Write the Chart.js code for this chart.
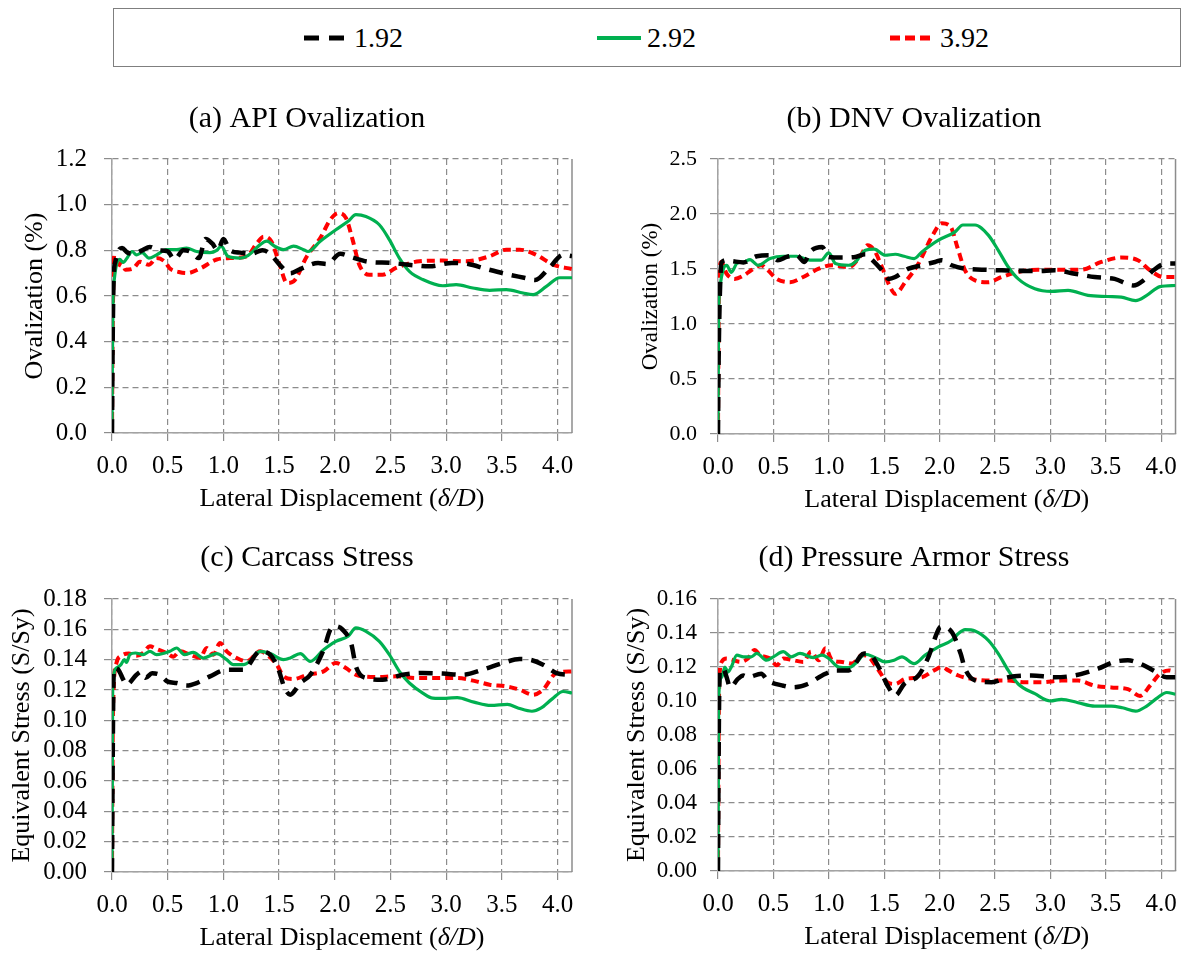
<!DOCTYPE html>
<html>
<head>
<meta charset="utf-8">
<script src="https://cdn.jsdelivr.net/npm/chart.js@4.4.0/dist/chart.umd.min.js"></script>
<style>
  body { margin: 0; background: #fff; }
  #page { position: relative; width: 1187px; height: 955px; overflow: hidden; font-family: 'Liberation Serif', serif; }
  .panel { position: absolute; }
  #legend { position: absolute; left: 113px; top: 8px; width: 1068px; height: 59px; border: 1px solid #7f7f7f; box-sizing: border-box; }
  .item { position: absolute; top: 0; height: 57px; display: flex; align-items: center; font-size: 28px; color: #000; }
  .item svg { margin-right: 6px; }
</style>
</head>
<body>
<div id="page">
  <div id="legend"></div>
  <div class="panel" style="left:0;top:80px;width:594px;height:450px"><canvas id="api"></canvas></div>
  <div class="panel" style="left:594px;top:80px;width:593px;height:450px"><canvas id="dnv"></canvas></div>
  <div class="panel" style="left:0;top:530px;width:594px;height:425px"><canvas id="carcass"></canvas></div>
  <div class="panel" style="left:594px;top:530px;width:593px;height:425px"><canvas id="armor"></canvas></div>
</div>
<script>
// legend / series
const seriesLabels = ['1.92', '2.92', '3.92'];
const seriesColors = ['#000000', '#00b050', '#ff0000'];
const seriesDash = [[14, 9], [], [8, 5]];
const seriesWidth = [4.5, 3.2, 4];

// x axis (lateral displacement, delta/D)
const xMax = 4.13;
const xStep = 0.5;

// (a) API ovalization, %  [x, y]
const apiOval192 = [[0,0],[0.005,0.35],[0.015,0.68],[0.03,0.75],[0.06,0.80],[0.09,0.81],[0.14,0.79],[0.2,0.785],[0.27,0.80],[0.34,0.815],[0.42,0.80],[0.5,0.795],[0.56,0.76],[0.64,0.80],[0.7,0.795],[0.78,0.766],[0.84,0.85],[0.9,0.83],[0.95,0.80],[1.0,0.85],[1.06,0.80],[1.15,0.79],[1.25,0.785],[1.35,0.80],[1.42,0.785],[1.5,0.74],[1.6,0.70],[1.7,0.72],[1.85,0.745],[1.93,0.74],[2.05,0.785],[2.15,0.77],[2.3,0.75],[2.5,0.745],[2.7,0.735],[2.85,0.73],[3.05,0.745],[3.2,0.74],[3.35,0.72],[3.55,0.695],[3.7,0.68],[3.8,0.67],[3.92,0.72],[4.05,0.78],[4.13,0.775]];
const apiOval292 = [[0,0],[0.003,0.3],[0.01,0.6],[0.02,0.67],[0.04,0.737],[0.07,0.76],[0.1,0.747],[0.14,0.77],[0.18,0.795],[0.22,0.78],[0.27,0.79],[0.33,0.766],[0.4,0.78],[0.49,0.803],[0.58,0.803],[0.67,0.81],[0.76,0.795],[0.88,0.79],[0.94,0.80],[0.98,0.818],[1.04,0.774],[1.15,0.766],[1.22,0.777],[1.33,0.825],[1.39,0.84],[1.46,0.818],[1.54,0.803],[1.63,0.818],[1.72,0.803],[1.76,0.795],[1.87,0.84],[2.01,0.89],[2.12,0.927],[2.19,0.956],[2.28,0.948],[2.4,0.912],[2.49,0.847],[2.58,0.766],[2.67,0.708],[2.79,0.672],[2.97,0.645],[3.09,0.65],[3.24,0.635],[3.39,0.625],[3.54,0.628],[3.69,0.613],[3.78,0.606],[3.9,0.642],[4.02,0.68],[4.13,0.68]];
const apiOval392 = [[0,0],[0.005,0.4],[0.012,0.65],[0.02,0.78],[0.04,0.72],[0.087,0.75],[0.12,0.715],[0.19,0.72],[0.25,0.75],[0.33,0.737],[0.4,0.766],[0.475,0.75],[0.52,0.72],[0.6,0.705],[0.67,0.70],[0.79,0.72],[0.94,0.76],[1.06,0.766],[1.21,0.774],[1.3,0.83],[1.36,0.86],[1.43,0.84],[1.51,0.73],[1.57,0.657],[1.63,0.664],[1.75,0.774],[1.87,0.854],[1.96,0.934],[2.03,0.963],[2.1,0.942],[2.16,0.847],[2.22,0.737],[2.31,0.693],[2.43,0.693],[2.55,0.723],[2.76,0.752],[2.97,0.755],[3.18,0.752],[3.39,0.774],[3.54,0.803],[3.66,0.803],[3.81,0.78],[3.96,0.737],[4.13,0.718]];

// (b) DNV ovalization, %
const dnvOval192 = [[0,0],[0.005,0.6],[0.015,1.2],[0.033,1.56],[0.08,1.58],[0.14,1.57],[0.23,1.56],[0.35,1.616],[0.47,1.625],[0.54,1.58],[0.62,1.61],[0.71,1.625],[0.78,1.564],[0.83,1.655],[0.94,1.70],[1.0,1.61],[1.12,1.604],[1.24,1.61],[1.33,1.634],[1.38,1.595],[1.48,1.488],[1.54,1.41],[1.6,1.427],[1.72,1.503],[1.84,1.534],[1.96,1.564],[2.02,1.58],[2.11,1.534],[2.23,1.503],[2.38,1.494],[2.56,1.488],[2.71,1.482],[2.89,1.482],[3.04,1.488],[3.22,1.457],[3.4,1.427],[3.58,1.41],[3.75,1.35],[3.84,1.396],[3.93,1.488],[4.05,1.55],[4.13,1.55]];
const dnvOval292 = [[0,0],[0.003,0.6],[0.006,1.09],[0.018,1.335],[0.048,1.5],[0.078,1.534],[0.12,1.47],[0.17,1.55],[0.23,1.564],[0.29,1.585],[0.32,1.564],[0.36,1.534],[0.47,1.595],[0.59,1.616],[0.71,1.616],[0.83,1.58],[0.93,1.58],[1.0,1.646],[1.06,1.55],[1.18,1.534],[1.24,1.564],[1.33,1.67],[1.41,1.68],[1.51,1.625],[1.6,1.634],[1.68,1.616],[1.77,1.595],[1.84,1.655],[1.99,1.762],[2.14,1.838],[2.21,1.9],[2.32,1.9],[2.44,1.808],[2.53,1.67],[2.62,1.518],[2.71,1.41],[2.86,1.32],[3.01,1.296],[3.16,1.305],[3.34,1.26],[3.52,1.25],[3.64,1.244],[3.77,1.213],[3.87,1.26],[3.99,1.34],[4.13,1.35]];
const dnvOval392 = [[0,0],[0.004,0.8],[0.01,1.43],[0.03,1.564],[0.078,1.457],[0.15,1.41],[0.23,1.44],[0.3,1.488],[0.39,1.534],[0.45,1.488],[0.53,1.41],[0.65,1.38],[0.77,1.427],[0.91,1.503],[1.03,1.534],[1.18,1.518],[1.29,1.625],[1.35,1.716],[1.41,1.67],[1.48,1.518],[1.54,1.366],[1.6,1.274],[1.69,1.38],[1.81,1.55],[1.93,1.793],[2.02,1.915],[2.1,1.884],[2.16,1.7],[2.23,1.488],[2.32,1.396],[2.44,1.38],[2.56,1.427],[2.71,1.473],[2.89,1.494],[3.07,1.494],[3.28,1.494],[3.46,1.564],[3.64,1.604],[3.79,1.58],[3.9,1.488],[4.02,1.427],[4.13,1.427]];

// (c) carcass stress, S/Sy
const carcass192 = [[0,0],[0.005,0.06],[0.012,0.12],[0.018,0.1345],[0.057,0.1334],[0.1,0.127],[0.13,0.1235],[0.22,0.13],[0.26,0.132],[0.3,0.128],[0.36,0.131],[0.43,0.13],[0.5,0.1255],[0.58,0.1246],[0.67,0.123],[0.76,0.1246],[0.88,0.129],[1.03,0.1334],[1.18,0.1334],[1.33,0.1455],[1.42,0.1433],[1.49,0.1345],[1.55,0.1213],[1.6,0.1169],[1.69,0.1246],[1.78,0.130],[1.9,0.1466],[1.96,0.1598],[2.01,0.162],[2.07,0.1598],[2.15,0.1499],[2.19,0.1356],[2.28,0.1279],[2.43,0.1268],[2.61,0.130],[2.79,0.1312],[2.97,0.1308],[3.15,0.130],[3.33,0.1334],[3.51,0.1378],[3.66,0.1404],[3.75,0.14],[3.87,0.1367],[3.99,0.1312],[4.13,0.130]];
const carcass292 = [[0,0],[0.003,0.06],[0.006,0.12],[0.04,0.1345],[0.08,0.1367],[0.11,0.14],[0.13,0.1382],[0.16,0.1433],[0.21,0.1444],[0.28,0.1433],[0.34,0.1455],[0.4,0.1433],[0.52,0.1455],[0.58,0.1477],[0.65,0.1433],[0.73,0.1448],[0.82,0.1411],[0.94,0.144],[1.03,0.14],[1.09,0.1367],[1.18,0.1367],[1.24,0.1389],[1.33,0.1455],[1.42,0.144],[1.54,0.14],[1.6,0.1411],[1.69,0.144],[1.78,0.1389],[1.9,0.1466],[2.01,0.1521],[2.12,0.1554],[2.19,0.1609],[2.28,0.1587],[2.4,0.1521],[2.49,0.1433],[2.58,0.1323],[2.67,0.1246],[2.79,0.118],[2.88,0.1147],[3.0,0.1145],[3.1,0.115],[3.25,0.112],[3.4,0.1098],[3.55,0.1105],[3.65,0.108],[3.77,0.106],[3.85,0.108],[3.95,0.114],[4.05,0.119],[4.13,0.118]];
const carcass392 = [[0,0],[0.004,0.06],[0.01,0.11],[0.04,0.1378],[0.087,0.1426],[0.15,0.144],[0.22,0.1426],[0.28,0.1444],[0.34,0.1488],[0.4,0.147],[0.49,0.1444],[0.55,0.142],[0.61,0.1455],[0.7,0.1433],[0.79,0.1411],[0.85,0.1477],[0.91,0.1433],[0.97,0.151],[1.03,0.1455],[1.12,0.1411],[1.21,0.1389],[1.33,0.1455],[1.39,0.1433],[1.48,0.1367],[1.54,0.129],[1.63,0.1272],[1.75,0.130],[1.9,0.1323],[2.01,0.1378],[2.1,0.1345],[2.19,0.130],[2.37,0.1286],[2.55,0.129],[2.73,0.1279],[2.91,0.1279],[3.09,0.1279],[3.27,0.1257],[3.39,0.1235],[3.54,0.1224],[3.66,0.1202],[3.78,0.1169],[3.87,0.1202],[3.99,0.1312],[4.13,0.1323]];

// (d) pressure armor stress, S/Sy
const armor192 = [[0,0],[0.005,0.06],[0.012,0.11],[0.018,0.118],[0.048,0.119],[0.078,0.114],[0.11,0.108],[0.18,0.113],[0.23,0.115],[0.27,0.114],[0.39,0.116],[0.45,0.112],[0.59,0.109],[0.68,0.108],[0.81,0.110],[0.94,0.115],[1.06,0.118],[1.18,0.118],[1.32,0.1279],[1.38,0.127],[1.45,0.12],[1.54,0.108],[1.6,0.1033],[1.68,0.110],[1.81,0.115],[1.9,0.126],[1.98,0.1406],[2.01,0.1436],[2.11,0.1406],[2.19,0.1279],[2.23,0.119],[2.32,0.1121],[2.47,0.1111],[2.62,0.114],[2.83,0.115],[3.04,0.114],[3.22,0.115],[3.43,0.119],[3.58,0.123],[3.7,0.124],[3.81,0.122],[3.93,0.118],[4.05,0.114],[4.13,0.114]];
const armor292 = [[0,0],[0.003,0.05],[0.006,0.102],[0.033,0.114],[0.063,0.12],[0.09,0.117],[0.12,0.12],[0.17,0.127],[0.23,0.126],[0.3,0.126],[0.35,0.128],[0.44,0.124],[0.5,0.126],[0.59,0.129],[0.66,0.126],[0.74,0.128],[0.86,0.1255],[0.94,0.127],[1.0,0.125],[1.09,0.12],[1.18,0.1196],[1.24,0.122],[1.33,0.1275],[1.42,0.1255],[1.51,0.123],[1.59,0.124],[1.66,0.126],[1.77,0.122],[1.87,0.127],[1.99,0.1318],[2.11,0.1357],[2.17,0.1397],[2.23,0.142],[2.32,0.1412],[2.44,0.1357],[2.53,0.1279],[2.62,0.118],[2.71,0.110],[2.86,0.1043],[3.0,0.100],[3.1,0.101],[3.25,0.099],[3.4,0.097],[3.55,0.097],[3.65,0.096],[3.77,0.094],[3.87,0.097],[3.97,0.102],[4.05,0.105],[4.13,0.104]];
const armor392 = [[0,0],[0.004,0.06],[0.012,0.112],[0.033,0.123],[0.078,0.125],[0.14,0.124],[0.2,0.123],[0.27,0.125],[0.33,0.13],[0.38,0.127],[0.47,0.125],[0.53,0.121],[0.59,0.125],[0.68,0.124],[0.77,0.123],[0.84,0.129],[0.91,0.124],[0.97,0.131],[1.03,0.124],[1.12,0.123],[1.21,0.122],[1.3,0.127],[1.36,0.126],[1.45,0.118],[1.53,0.111],[1.6,0.110],[1.69,0.113],[1.84,0.114],[1.95,0.118],[2.02,0.12],[2.08,0.118],[2.17,0.115],[2.29,0.113],[2.47,0.112],[2.62,0.112],[2.77,0.111],[2.92,0.111],[3.1,0.112],[3.25,0.112],[3.4,0.109],[3.55,0.108],[3.7,0.107],[3.81,0.103],[3.9,0.109],[3.99,0.116],[4.07,0.118],[4.13,0.117]];

const serif = "'Liberation Serif', 'Times New Roman', serif";
const gridColor = '#8c8c8c';
const axisColor = '#a3a3a3';
Chart.defaults.font.family = serif;
Chart.defaults.color = '#000';

// legend in the box at the top
const legendLeft = [190, 483, 776];
const legendBox = document.getElementById('legend');
seriesLabels.forEach((lab, i) => {
  const d = document.createElement('div');
  d.className = 'item';
  d.style.left = legendLeft[i] + 'px';
  const dash = seriesDash[i].length ? (i === 0 ? '15 10' : '10 5') : 'none';
  d.innerHTML = '<svg width="44" height="10"><line x1="0" y1="5" x2="44" y2="5" stroke="' + seriesColors[i] +
    '" stroke-width="' + (i === 1 ? 4 : 5) + '" stroke-dasharray="' + dash + '"/></svg><span>' + lab + '</span>';
  legendBox.appendChild(d);
});

// titles, right frame edge and the x title with italic delta/D
const captions = {
  id: 'captions',
  beforeDatasetsDraw(chart) {
    const {ctx, chartArea: a} = chart;
    ctx.save();
    ctx.strokeStyle = gridColor;
    ctx.lineWidth = 1.5;
    ctx.beginPath();
    ctx.moveTo(a.right, a.top);
    ctx.lineTo(a.right, a.bottom);
    ctx.stroke();
    ctx.restore();
  },
  afterDraw(chart, args, o) {
    const {ctx, chartArea: a} = chart;
    ctx.save();
    ctx.fillStyle = '#000';
    ctx.textBaseline = 'middle';
    ctx.textAlign = 'center';
    ctx.font = '30px ' + serif;
    ctx.fillText(o.title, o.titleX, o.titleY);
    const parts = [['Lateral Displacement (', ''], ['\u03b4/D', 'italic '], [')', '']];
    ctx.textAlign = 'left';
    let total = 0;
    const widths = parts.map(p => {
      ctx.font = p[1] + '26px ' + serif;
      const w = ctx.measureText(p[0]).width;
      total += w;
      return w;
    });
    let x = (a.left + a.right) / 2 - total / 2;
    parts.forEach((p, i) => {
      ctx.font = p[1] + '26px ' + serif;
      ctx.fillText(p[0], x, a.bottom + 66);
      x += widths[i];
    });
    ctx.restore();
  }
};

function makeChart(id, series, p) {
  return new Chart(document.getElementById(id), {
    type: 'line',
    data: {
      datasets: series.map((pts, i) => ({
        label: seriesLabels[i],
        data: pts.map(([x, y]) => ({x, y})),
        borderColor: seriesColors[i],
        borderDash: seriesDash[i],
        borderWidth: seriesWidth[i],
        pointRadius: 0,
        cubicInterpolationMode: 'monotone',
        fill: false
      }))
    },
    options: {
      responsive: true,
      maintainAspectRatio: false,
      animation: false,
      layout: { padding: p.padding },
      plugins: {
        legend: { display: false },
        tooltip: { enabled: false },
        captions: { title: p.title, titleX: p.titleX, titleY: p.titleY }
      },
      scales: {
        x: {
          type: 'linear', min: 0, max: xMax,
          afterFit: s => { s.height = 60; },
          ticks: { stepSize: xStep, includeBounds: false, padding: 10, maxRotation: 0, autoSkip: false,
                   font: { size: 25 }, callback: v => v.toFixed(1) },
          grid: { color: gridColor, lineWidth: 1.2, tickLength: 8, tickColor: gridColor },
          border: { color: axisColor, width: 1.5, dash: [6, 4] }
        },
        y: {
          min: 0, max: p.yMax,
          afterFit: s => { s.width = p.yWidth; },
          ticks: { stepSize: p.yStep, padding: p.yPad, autoSkip: false, font: { size: p.yFont },
                   callback: v => v.toFixed(p.yDigits) },
          title: { display: true, text: p.yTitle, font: { size: p.yTitleSize }, padding: { top: p.yTitlePad, bottom: 0 } },
          grid: { color: gridColor, lineWidth: 1.2, tickLength: 8, tickColor: gridColor },
          border: { color: axisColor, width: 1.5, dash: [6, 4] }
        }
      }
    },
    plugins: [captions]
  });
}

makeChart('api', [apiOval192, apiOval292, apiOval392], {
  title: '(a) API Ovalization', titleX: 307, titleY: 39,
  padding: { left: 0, top: 79, right: 22, bottom: 37 },
  yMax: 1.2, yStep: 0.2, yDigits: 1, yFont: 25, yPad: 17, yWidth: 112,
  yTitle: 'Ovalization (%)', yTitleSize: 26, yTitlePad: 20
});
makeChart('dnv', [dnvOval192, dnvOval292, dnvOval392], {
  title: '(b) DNV Ovalization', titleX: 320, titleY: 39,
  padding: { left: 0, top: 79, right: 8, bottom: 36 },
  yMax: 2.5, yStep: 0.5, yDigits: 1, yFont: 22, yPad: 13, yWidth: 124,
  yTitle: 'Ovalization (%)', yTitleSize: 23, yTitlePad: 43
});
makeChart('carcass', [carcass192, carcass292, carcass392], {
  title: '(c) Carcass Stress', titleX: 307, titleY: 28,
  padding: { left: 0, top: 69, right: 22, bottom: 23 },
  yMax: 0.18, yStep: 0.02, yDigits: 2, yFont: 25, yPad: 17, yWidth: 112,
  yTitle: 'Equivalent Stress (S/Sy)', yTitleSize: 26, yTitlePad: 7
});
makeChart('armor', [armor192, armor292, armor392], {
  title: '(d) Pressure Armor Stress', titleX: 320, titleY: 28,
  padding: { left: 0, top: 69, right: 8, bottom: 24 },
  yMax: 0.16, yStep: 0.02, yDigits: 2, yFont: 23, yPad: 13, yWidth: 124,
  yTitle: 'Equivalent Stress (S/Sy)', yTitleSize: 26, yTitlePad: 28
});
</script>
</body>
</html>
